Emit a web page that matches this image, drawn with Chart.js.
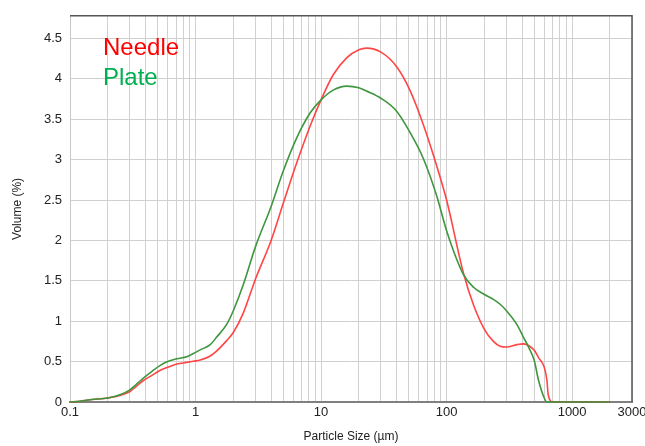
<!DOCTYPE html>
<html>
<head>
<meta charset="utf-8">
<script src="https://cdn.jsdelivr.net/npm/chart.js@4.4.1/dist/chart.umd.min.js"></script>
<style>
body{margin:0;background:#fff;}
#wrap{position:relative;width:645px;height:446px;}
.leg{position:absolute;font-family:"Liberation Sans",Arial,sans-serif;font-size:24px;line-height:30px;}
</style>
</head>
<body>
<div id="wrap">
<canvas id="myChart" width="645" height="446"></canvas>
<div class="leg" style="left:103px;top:32px;color:#ff0000">Needle</div>
<div class="leg" style="left:103px;top:62px;color:#00b050">Plate</div>
</div>
<script>
// particle sizes (µm) and volume (%)
var sizes = [0.1, 0.12, 0.15, 0.2, 0.25, 0.3, 0.38, 0.45, 0.52, 0.6, 0.71, 0.85, 0.96, 1.09, 1.31, 1.47, 1.77, 2.0, 2.4,
  3.0, 4.0, 5.0, 6.4, 8.2, 10, 12.5, 16, 20, 23, 30, 40, 51, 65, 83.5, 100, 136, 164, 200, 236,
  267, 300, 363, 410, 450, 500, 540, 600, 630, 645, 700, 1000, 2000];
var needle = [0, 0.01, 0.03, 0.05, 0.08, 0.13, 0.26, 0.33, 0.39, 0.43, 0.47, 0.49, 0.505, 0.52, 0.57, 0.63, 0.76, 0.86, 1.1,
  1.52, 2.0, 2.46, 2.96, 3.42, 3.74, 4.05, 4.26, 4.36, 4.38, 4.33, 4.15, 3.86, 3.44, 2.92, 2.5, 1.6, 1.2, 0.9, 0.75,
  0.69, 0.68, 0.71, 0.72, 0.70, 0.64, 0.55, 0.43, 0.27, 0.09, 0, 0, 0];
var plate = [0, 0.01, 0.03, 0.05, 0.09, 0.15, 0.29, 0.38, 0.45, 0.50, 0.535, 0.56, 0.60, 0.645, 0.71, 0.80, 0.96, 1.13, 1.45,
  1.92, 2.42, 2.86, 3.27, 3.58, 3.74, 3.86, 3.91, 3.89, 3.85, 3.76, 3.60, 3.34, 3.02, 2.55, 2.12, 1.58, 1.42, 1.33, 1.27,
  1.21, 1.13, 0.96, 0.80, 0.68, 0.51, 0.27, 0.05, 0, 0, 0, 0, 0];
var xLabels = [0.1, 1, 10, 100, 1000, 3000];
var yTicks = [0, 0.5, 1, 1.5, 2, 2.5, 3, 3.5, 4, 4.5];

function pts(vals){
  return sizes.map(function(s, i){ return {x: s, y: vals[i]}; });
}

// every 1..9 x 10^k gridline up to 2000, then 3000 at the edge
var xTicks = [];
[0.1, 1, 10, 100, 1000].forEach(function(d){
  for (var m = 1; m <= 9; m++) {
    var v = +(m * d).toPrecision(3);
    if (v <= 2000) xTicks.push(v);
  }
});
xTicks.push(3000);

var font = {family: '"Liberation Sans", Arial, sans-serif', size: 13};

var borderPlugin = {
  id: 'border',
  afterDraw: function(chart){
    var a = chart.chartArea, c = chart.ctx;
    c.save();
    c.strokeStyle = '#555';
    c.lineWidth = 1.5;
    c.beginPath();
    c.moveTo(a.left, a.top);
    c.lineTo(a.right, a.top);
    c.lineTo(a.right, a.bottom);
    c.stroke();
    c.restore();
  }
};

var ctx1 = document.getElementById('myChart');
var myChart1 = new Chart(ctx1, {
  type: 'line',
  data: {
    datasets: [{
      label: 'Plate',
      data: pts(plate),
      borderColor: '#3f963f',
      borderWidth: 1.6,
      pointRadius: 0,
      clip: false,
      cubicInterpolationMode: 'monotone'
    }, {
      label: 'Needle',
      data: pts(needle),
      borderColor: 'rgba(255,50,50,0.9)',
      borderWidth: 1.6,
      pointRadius: 0,
      clip: false,
      cubicInterpolationMode: 'monotone'
    }]
  },
  options: {
    responsive: false,
    animation: false,
    layout: {padding: {top: 13, right: 13, left: 0, bottom: 0}},
    plugins: {legend: {display: false}, tooltip: {enabled: false}},
    scales: {
      x: {
        type: 'logarithmic',
        min: 0.1,
        max: 3000,
        afterBuildTicks: function(scale){
          scale.ticks = xTicks.map(function(v){ return {value: v}; });
        },
        afterFit: function(scale){
          scale.height = 44;
          scale.paddingLeft = 0;
          scale.paddingRight = 0;
        },
        ticks: {
          autoSkip: false,
          maxRotation: 0,
          padding: 3,
          color: '#222',
          font: font,
          callback: function(v){ return xLabels.indexOf(v) >= 0 ? String(v) : ''; }
        },
        grid: {color: '#d0d0d0', lineWidth: 1, drawTicks: false},
        border: {color: '#808080', width: 2},
        title: {display: true, text: 'Particle Size (µm)', color: '#222', font: {family: font.family, size: 12}, padding: {top: 0, bottom: 2}}
      },
      y: {
        min: 0,
        max: 4.78,
        afterBuildTicks: function(scale){
          scale.ticks = yTicks.map(function(v){ return {value: v}; });
        },
        afterFit: function(scale){
          scale.width = 70;
        },
        ticks: {
          padding: 8,
          color: '#222',
          font: font,
          callback: function(v){ return String(v); }
        },
        grid: {color: '#d0d0d0', lineWidth: 1, drawTicks: false},
        border: {color: '#c8c8c8', width: 1},
        title: {display: true, text: 'Volume (%)', color: '#222', font: {family: font.family, size: 12}, padding: {top: 10, bottom: 0}}
      }
    }
  },
  plugins: [borderPlugin]
});
</script>
</body>
</html>
